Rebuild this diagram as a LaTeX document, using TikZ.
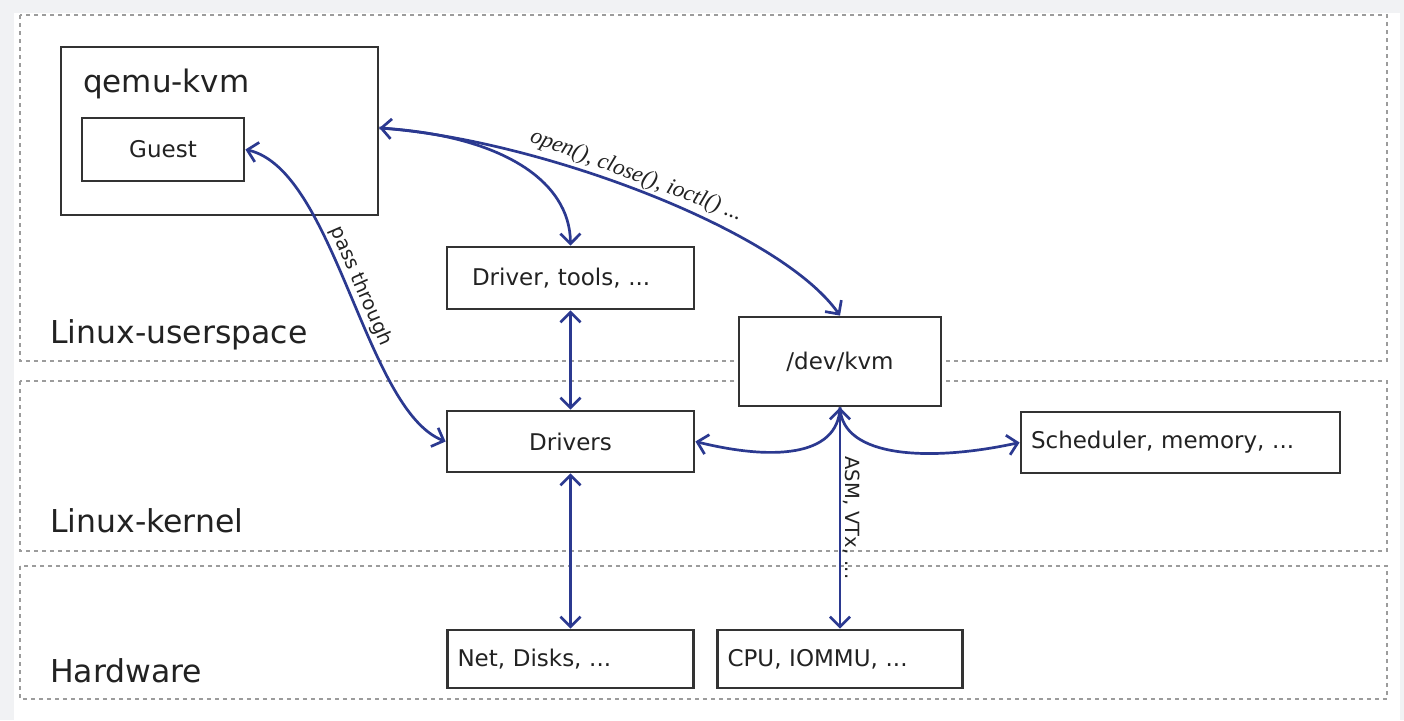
\documentclass[tikz,border=0pt]{standalone}
\usepackage{fontspec}
\setmainfont{DejaVu Sans}
\newfontfamily\lblfont{Liberation Serif}
\usetikzlibrary{arrows.meta}
\definecolor{arrowblue}{HTML}{2B3990}
\definecolor{boxline}{HTML}{333333}
\definecolor{layerdash}{HTML}{9C9C9C}
\definecolor{outerbg}{HTML}{F1F2F4}
\definecolor{txt}{HTML}{222222}
\tikzset{
  >={Straight Barb[length=10pt,width=20pt]},
  layer/.style={draw=layerdash, line width=2.2pt, dash pattern=on 4pt off 4pt},
  box/.style={draw=boxline, line width=2.8pt, fill=white, text=txt,
    font=\fontsize{23}{27}\selectfont, inner sep=0pt},
  lbox/.style n args={2}{box, align=left, text width=#1, inner xsep=#2, inner ysep=0pt},
  layertitle/.style={font=\fontsize{31.5}{37}\selectfont, text=txt, anchor=base west, inner sep=0pt},
  conn/.style={draw=arrowblue, line width=2.7pt},
  lbl/.style={text=txt, font=\fontsize{19.5}{23}\selectfont, inner sep=2pt},
  callbl/.style={text=txt, font=\lblfont\itshape\fontsize{23}{27}\selectfont, inner sep=1.5pt}
}
\begin{document}
\begin{tikzpicture}[x=1pt, y=-1pt]
\useasboundingbox (0,0) rectangle (1404,720);
\fill[outerbg] (0,0) rectangle (1404,720);
\fill[white] (14,13) rectangle (1400,720);

% layers
\draw[layer] (20,15) rectangle (1387,361);
\draw[layer] (20,381) rectangle (1387,551);
\draw[layer] (20,566) rectangle (1387,699);
\node[layertitle] (lus) at (50,343) {Linux-userspace};
\node[layertitle] (lkn) at (50,532) {Linux-kernel};
\node[layertitle] (lhw) at (50,682) {Hardware};

% boxes
\node[box, minimum width=317pt, minimum height=168pt] (qemu) at (219.5,131) {};
\node[font=\fontsize{31}{36}\selectfont, text=txt, anchor=base west, inner sep=0pt] (qemutitle) at (83,92) {qemu-kvm};
\node[box, minimum width=162pt, minimum height=63pt] (guest) at (163,149.5) {Guest};
\node[lbox={197pt}{25pt}, minimum height=62pt] (tools) at (570.5,278) {Driver, tools, ...};
\node[box, minimum width=202pt, minimum height=89pt] (devkvm) at (840,361.5) {/dev/kvm};
\node[box, minimum width=247pt, minimum height=61pt] (drivers) at (570.5,441.5) {Drivers};
\node[lbox={299pt}{10pt}, minimum height=61pt] (sched) at (1180.5,442.5) {Scheduler, memory, ...};
\node[lbox={226pt}{10pt}, minimum height=58pt] (net) at (570.5,659) {Net, Disks, ...};
\node[lbox={225pt}{10pt}, minimum height=58pt] (cpu) at (840,659) {CPU, IOMMU, ...};

% connectors
\draw[conn, <->] (guest.east) .. controls (335,170) and (365,410) .. (drivers.west)
  node[pos=.5, sloped, above, lbl] {pass through};
\draw[conn, <->] ([yshift=3pt]qemu.east) .. controls (540,140) and (780,230) .. (devkvm.north)
  node[pos=.47, sloped, above, callbl] {open(), close(), ioctl() ...};
\draw[conn, ->] ([yshift=3pt]qemu.east) .. controls (500,135) and (570,180) .. (tools.north);
\draw[conn, <->] (tools.south) -- (drivers.north);
\draw[conn, <->] (drivers.south) -- (net.north);
\draw[conn, <->] (devkvm.south) -- (cpu.north)
  node[pos=.5, sloped, above, lbl] {ASM, VTx, ...};
\draw[conn, ->] (devkvm.south) .. controls (838,458) and (770,460) .. (drivers.east);
\draw[conn, ->] (devkvm.south) .. controls (842,458) and (930,462) .. (sched.west);
\end{tikzpicture}
\end{document}
